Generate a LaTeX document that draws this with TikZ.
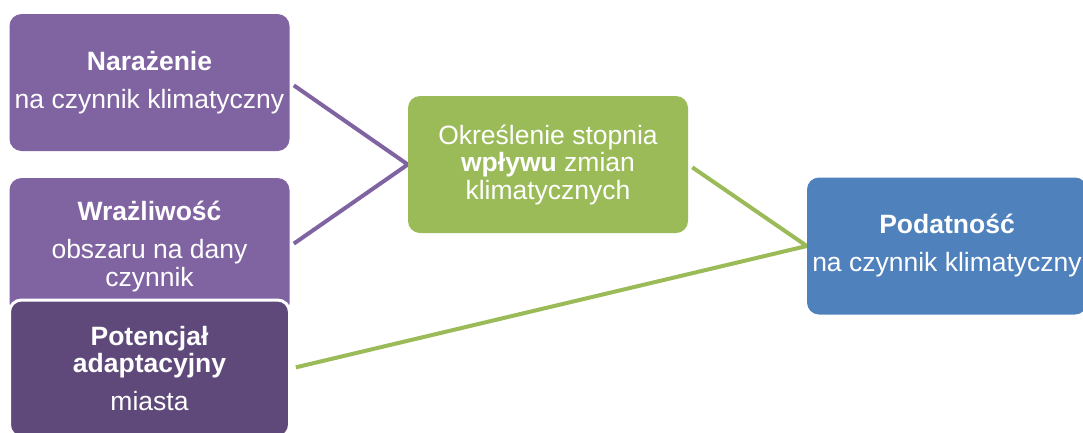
\documentclass[tikz,border=0pt]{standalone}
\usepackage{fontspec}
\setmainfont{Liberation Sans}
\definecolor{purp}{HTML}{8064A2}
\definecolor{dpurp}{HTML}{5F497A}
\definecolor{grn}{HTML}{9BBB59}
\definecolor{blu}{HTML}{4F81BD}
\pgfdeclarelayer{bg}
\pgfsetlayers{bg,main}
\begin{document}
\begin{tikzpicture}[x=1pt,y=-1pt,
  box/.style={rounded corners=12pt, minimum width=280pt, minimum height=137pt,
    text=white, align=center, inner sep=0pt,
    font=\fontsize{26.5}{27.5}\selectfont},
  link/.style={line width=4pt, shorten <=5pt, shorten >=5pt}]
\useasboundingbox (0,0) rectangle (1083,432);
\node[box, fill=purp] (n1) at (149.5,82.5)
  {\textbf{Narażenie}\\[10.5pt]na czynnik klimatyczny};
\node[box, fill=purp] (n2) at (149.5,246.5)
  {\textbf{Wrażliwość}\\[10.5pt]obszaru na dany\\czynnik};
\node[box, fill=dpurp, draw=white, line width=3pt] (n3) at (149.5,368.5)
  {\textbf{Potencjał}\\\textbf{adaptacyjny}\\[10.5pt]miasta};
\node[box, fill=grn] (g) at (548,164.5)
  {Określenie stopnia\\\textbf{wpływu} zmian\\klimatycznych};
\node[box, fill=blu] (b) at (947,246)
  {\textbf{Podatność}\\[10.5pt]na czynnik klimatyczny};
\begin{pgfonlayer}{bg}
\draw[link, purp] (n1.east) -- (g.west) -- (n2.east);
\draw[link, grn] (g.east) -- (b.west) -- (n3.east);
\end{pgfonlayer}
\end{tikzpicture}
\end{document}
